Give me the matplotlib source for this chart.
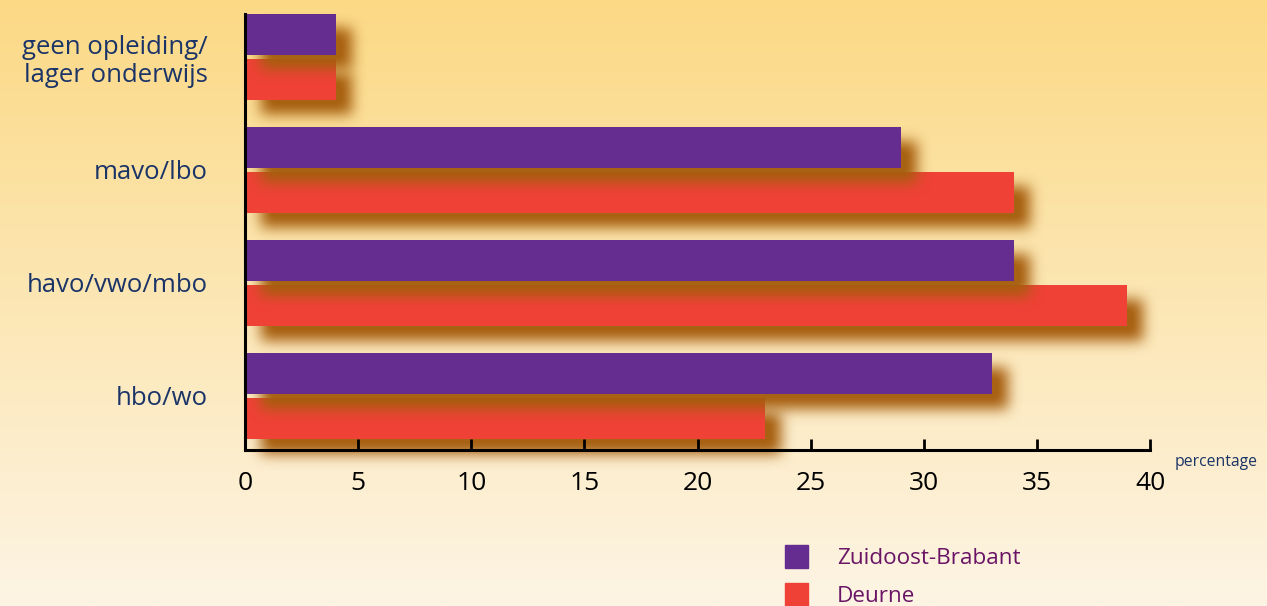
import numpy as np
import matplotlib
matplotlib.use("Agg")
import matplotlib.pyplot as plt
from matplotlib.patches import Rectangle

categories = ["geen opleiding/\nlager onderwijs", "mavo/lbo", "havo/vwo/mbo", "hbo/wo"]
zuidoost = [4, 29, 34, 33]
deurne = [4, 34, 39, 23]
series_names = ["Zuidoost-Brabant", "Deurne"]
xticks = [0, 5, 10, 15, 20, 25, 30, 35, 40]

PURPLE = "#662D91"
RED = "#EF4136"
NAVY = "#1B3468"
LEGEND_TXT = "#6A1466"
SHADOW = np.array([166, 94, 14]) / 255

plt.rcParams['font.family'] = ['Open Sans', 'DejaVu Sans']

W, H = 1267, 606
fig = plt.figure(figsize=(W / 100, H / 100), dpi=100)

# background gradient
bg = fig.add_axes([0, 0, 1, 1], zorder=-10)
top = np.array([251, 217, 133]) / 255
bot = np.array([253, 244, 228]) / 255
t = np.linspace(0, 1, 256)[:, None]
grad = top[None, :] * (1 - t) + bot[None, :] * t
bg.imshow(grad[:, None, :], aspect='auto', extent=[0, 1, 0, 1])
bg.axis('off')

ax = fig.add_axes([245 / W, (H - 450) / H, (1150 - 245) / W, 436 / H])
ax.patch.set_alpha(0)

y = np.arange(len(categories))
off = 0.2
h = 0.363
YLIM = (3.478, -0.38)
xunit = 905 / 40.0   # px per data unit (x)
yunit = 436 / (YLIM[0] - YLIM[1])  # px per data unit (y)

# drop shadow (blurred, offset) computed from the bar data
SHX, SHY = 16, 15  # px offset
MARG = 40
gx0, gx1 = -MARG, 905 + MARG
gy0, gy1 = -MARG, 436 + MARG
gx = np.arange(gx0, gx1) + 0.5
gy = np.arange(gy0, gy1) + 0.5


def box_blur(a, r, axis):
    k = 2 * r + 1
    pad = [(0, 0), (0, 0)]
    pad[axis] = (r, r)
    p = np.pad(a, pad, mode='constant')
    c = np.cumsum(p, axis=axis)
    c = np.concatenate([np.zeros_like(np.take(c, [0], axis=axis)), c], axis=axis)
    n = a.shape[axis]
    return (np.take(c, np.arange(k, k + n), axis=axis) - np.take(c, np.arange(0, n), axis=axis)) / k


def shadow(ypos, widths, z):
    m = np.zeros((len(gy), len(gx)))
    for yc, w in zip(ypos, widths):
        xl = 0 + SHX
        xr = w * xunit + SHX
        yt = (yc - h / 2 - YLIM[1]) * yunit + SHY
        yb = (yc + h / 2 - YLIM[1]) * yunit + SHY
        m[np.ix_((gy >= yt) & (gy <= yb), (gx >= xl) & (gx <= xr))] = 1.0
    for _ in range(3):
        m = box_blur(m, 6, 0)
        m = box_blur(m, 6, 1)
    img = np.zeros(m.shape + (4,))
    img[..., :3] = SHADOW
    img[..., 3] = np.clip(m * 1.05, 0, 1) * 0.97
    ext = (gx0 / xunit, gx1 / xunit, YLIM[1] + gy1 / yunit, YLIM[1] + gy0 / yunit)
    ax.imshow(img, extent=ext, origin='upper', aspect='auto', zorder=z,
              interpolation='bilinear', clip_on=False)


shadow(y + off, deurne, 1)
ax.barh(y + off, deurne, height=h, color=RED, linewidth=0, zorder=2)
shadow(y - off, zuidoost, 3)
ax.barh(y - off, zuidoost, height=h, color=PURPLE, linewidth=0, zorder=4)

ax.set_xlim(0, 40)
ax.set_ylim(*YLIM)

for s in ['top', 'right']:
    ax.spines[s].set_visible(False)
ax.spines['left'].set_linewidth(2.2)
ax.spines['bottom'].set_linewidth(2.2)
ax.spines['left'].set_zorder(5)
ax.spines['bottom'].set_zorder(5)

ax.set_xticks(xticks)
ax.set_xticklabels([str(v) for v in xticks], fontsize=19, color='black')
ax.tick_params(axis='x', direction='in', length=8, width=2, pad=15)
ax.set_yticks(y)
ax.set_yticklabels(categories, fontsize=18.5, color=NAVY, linespacing=1.18)
ax.tick_params(axis='y', length=0, pad=27)

fig.text(1175 / W, 1 - 462 / H, "percentage", fontsize=11.3, color=NAVY,
         ha='left', va='center')

# legend
for i, (name, col) in enumerate(zip(series_names, [PURPLE, RED])):
    yc = 556 + i * 38
    fig.patches.append(Rectangle((785 / W, 1 - (yc + 11.5) / H), 23 / W, 23 / H,
                                 transform=fig.transFigure, color=col))
    fig.text(837 / W, 1 - (yc + 3) / H, name, fontsize=16.2, color=LEGEND_TXT,
             ha='left', va='center')

fig.savefig("out.png", dpi=100)
